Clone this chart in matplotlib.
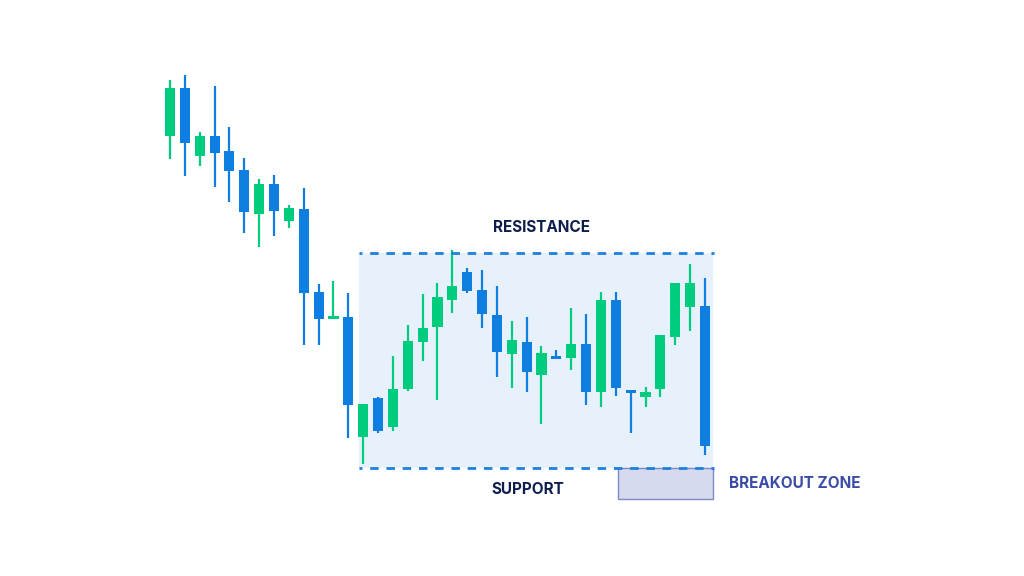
import matplotlib
matplotlib.use("Agg")
import matplotlib.pyplot as plt
from matplotlib.patches import Rectangle
import numpy as np

# OHLC series
opens  = [83.2, 88.0, 81.2, 83.2, 81.7, 79.8, 75.4, 78.4, 74.7, 75.9, 67.6, 64.9, 65.1,
          53.1, 57.0, 54.1, 57.9, 62.6, 64.1, 66.8, 69.6, 67.8, 65.3, 61.4, 62.6, 59.3,
          61.2, 61.0, 62.4, 57.6, 66.8, 57.8, 57.1, 57.9, 63.1, 66.1, 66.2]
highs  = [88.8, 89.3, 83.6, 88.2, 84.1, 81.0, 78.9, 79.3, 76.3, 78.0, 68.4, 68.7, 67.5,
          56.4, 57.1, 61.2, 64.3, 67.4, 68.5, 71.8, 70.0, 69.8, 68.2, 64.7, 65.1, 62.2,
          61.8, 66.0, 65.4, 67.6, 67.6, 57.8, 58.1, 63.3, 68.5, 70.4, 69.0]
lows   = [80.9, 79.2, 80.2, 78.1, 76.6, 73.5, 72.1, 73.2, 74.0, 62.3, 62.3, 64.9, 53.0,
          50.4, 53.5, 53.7, 57.7, 60.7, 56.8, 65.5, 67.5, 64.0, 59.1, 58.0, 57.6, 54.4,
          60.9, 59.8, 56.3, 56.1, 57.2, 53.5, 56.1, 57.1, 62.3, 63.7, 51.3]
closes = [88.0, 82.5, 83.2, 81.5, 79.7, 75.6, 78.4, 75.7, 76.0, 67.5, 64.9, 65.2, 56.3,
          56.4, 53.7, 57.9, 62.7, 64.0, 67.1, 68.2, 67.7, 65.4, 61.6, 62.8, 59.6, 61.5,
          60.9, 62.4, 57.6, 66.8, 58.0, 57.5, 57.6, 63.3, 68.5, 68.5, 52.2]

resistance = 71.5
support = 50.0
breakout_floor = 46.9

UP = "#00CC7E"
DOWN = "#0E7EE0"
LINE = "#1E7FE0"
NAVY = "#0D1E4C"

fig = plt.figure(figsize=(10.24, 5.76), dpi=100)
ax = fig.add_axes([0, 0, 1, 1])
ax.set_xlim(-11.44, 57.47)
ax.set_ylim(39.2, 96.8)
ax.axis("off")

# range box
box_left, box_right = 12.72, 36.54
ax.add_patch(Rectangle((box_left, support), box_right - box_left, resistance - support,
                       facecolor="#E7F1FB", edgecolor="none", zorder=0))

# breakout zone
bz_left = 30.15
ax.add_patch(Rectangle((bz_left, breakout_floor), box_right - bz_left, support - breakout_floor,
                       facecolor="#D6DAEE", edgecolor="#7F89C8", linewidth=1.0, zorder=1))

# candles
x = np.arange(len(opens))
o = np.array(opens); c = np.array(closes); h = np.array(highs); l = np.array(lows)
colors = [UP if cc >= oo else DOWN for oo, cc in zip(o, c)]
ax.vlines(x, l, h, colors=colors, linewidth=1.6, zorder=2)
bottoms = np.minimum(o, c)
heights = np.maximum(np.abs(c - o), 0.3)
ax.bar(x, heights, bottom=bottoms, width=0.68, color=colors, zorder=3)

# support / resistance lines
for lvl in (resistance, support):
    ax.hlines(lvl, box_left, box_right + 0.05, colors=LINE, linewidth=2.0,
              linestyles=(2.0, (3.05, 2.8)), zorder=4)

font = ["Inter", "DejaVu Sans"]
ax.text(24.97, 74.0, "RESISTANCE", ha="center", va="center", fontsize=11,
        fontweight="bold", color=NAVY, family=font)
ax.text(24.1, 47.9, "SUPPORT", ha="center", va="center", fontsize=11,
        fontweight="bold", color=NAVY, family=font)
ax.text(37.6, 48.5, "BREAKOUT ZONE", ha="left", va="center", fontsize=11,
        fontweight="bold", color="#3A4BA8", family=font)

fig.savefig("out.png", dpi=100, facecolor="white")
